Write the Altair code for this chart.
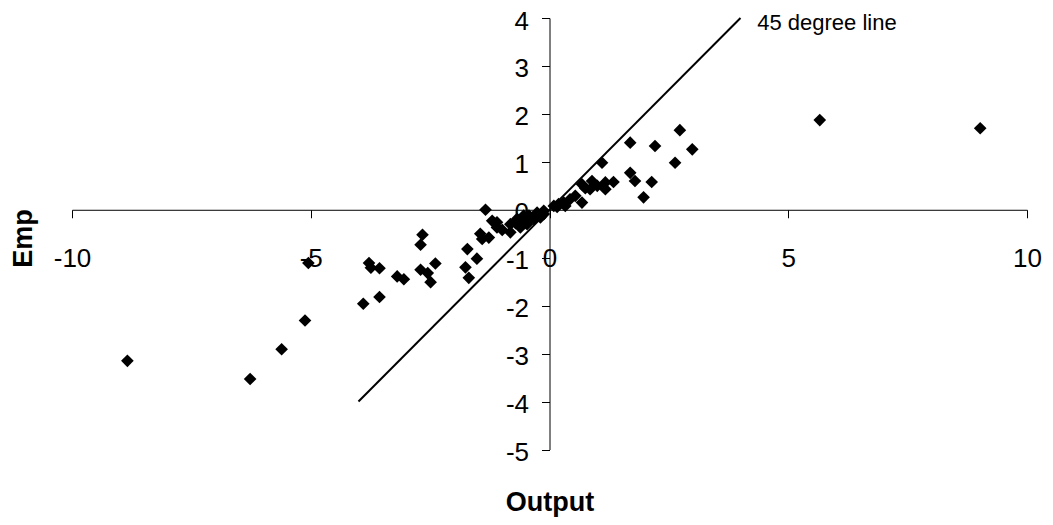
import altair as alt
import pandas as pd

# Scatter data (Output growth vs Emp growth)
output_vals = [-8.84, -6.27, -5.61, -5.12, -5.05, -3.90, -3.56, -3.78, -3.74, -3.56,
               -3.19, -3.05, -2.66, -2.70, -2.70, -2.55, -2.39, -2.49, -1.72, -1.52,
               -1.76, -1.69, -1.34, -1.45, -1.41, -1.27, -1.20, -1.10, -1.10, -0.99,
               -0.82, -0.82, -0.68, -0.71, -0.61, -0.54, -0.54, -0.47, -0.43, -0.40,
               -0.33, -0.26, -0.26, -0.19, -0.12, -0.12,
               0.09, 0.16, 0.19, 0.33, 0.30, 0.43, 0.54, 0.68, 0.68, 0.75, 0.89, 0.85,
               1.00, 1.10, 1.17, 1.17, 1.34, 1.69, 1.69, 1.79, 1.97, 2.14, 2.21, 2.63,
               2.73, 2.99, 5.66, 9.02]
emp_vals = [-3.15, -3.53, -2.91, -2.31, -1.11, -1.96, -1.82, -1.11, -1.21, -1.22,
            -1.39, -1.45, -0.52, -0.73, -1.25, -1.32, -1.12, -1.51, -0.82, -1.02,
            -1.20, -1.42, 0.00, -0.50, -0.61, -0.58, -0.23, -0.26, -0.37, -0.42,
            -0.47, -0.30, -0.19, -0.28, -0.37, -0.12, -0.23, -0.30, -0.12, -0.16,
            -0.19, -0.06, -0.12, -0.16, -0.09, -0.02,
            0.08, 0.06, 0.12, 0.08, 0.15, 0.22, 0.29, 0.15, 0.53, 0.45, 0.60, 0.43,
            0.50, 0.98, 0.43, 0.57, 0.58, 1.40, 0.77, 0.60, 0.26, 0.58, 1.33, 0.98,
            1.66, 1.26, 1.87, 1.70]

# 45 degree reference line
line_x = [-4, 4]
line_y = [-4, 4]

# annotation
note_text = ["45 degree line"]
note_x = [4.35]
note_y = [3.75]

# axis ticks
x_ticks = [-10, -5, 0, 5, 10]
y_ticks = [-5, -4, -3, -2, -1, 0, 1, 2, 3, 4]
x_domain = [-10, 10]
y_domain = [-5, 4]

W = 955
H = 431.5
FONT = "Liberation Sans"

pts = pd.DataFrame({"Output": output_vals, "Emp": emp_vals})
line_df = pd.DataFrame({"Output": line_x, "Emp": line_y})
note_df = pd.DataFrame({"Output": note_x, "Emp": note_y, "label": note_text})

x_scale = alt.Scale(domain=x_domain, nice=False, zero=False)
y_scale = alt.Scale(domain=y_domain, nice=False, zero=False)

# axes cross at the origin
x_off = -H * (0 - y_domain[0]) / (y_domain[1] - y_domain[0])
y_off = -W * (0 - x_domain[0]) / (x_domain[1] - x_domain[0])

x_axis = alt.Axis(
    values=x_ticks, grid=False, offset=x_off,
    domainColor="black", domainWidth=1, tickColor="black", tickWidth=1, tickSize=8,
    labelFont=FONT, labelFontSize=26, labelColor="black", labelPadding=28,
    labelFlush=False, labelOverlap=False, labelExpr="'' + datum.value",
    title="Output", titleFont=FONT, titleFontSize=27, titleFontWeight="bold",
    titleColor="black", titleX=W / 2, titleY=301, titleAlign="center",
    titleBaseline="alphabetic", titleAngle=0,
)
y_axis = alt.Axis(
    values=y_ticks, grid=False, offset=y_off,
    domainColor="black", domainWidth=1, tickColor="black", tickWidth=1, tickSize=8,
    labelFont=FONT, labelFontSize=26, labelColor="black", labelPadding=13,
    labelOffset=3, labelFlush=False, labelOverlap=False, labelExpr="'' + datum.value",
    title="Emp", titleFont=FONT, titleFontSize=27, titleFontWeight="bold",
    titleColor="black", titleX=-(W / 2) - 41, titleY=220, titleAlign="center",
    titleBaseline="alphabetic", titleAngle=270,
)

points = alt.Chart(pts).mark_point(
    shape="diamond", filled=True, color="black", size=160, opacity=1
).encode(
    x=alt.X("Output:Q", scale=x_scale, axis=x_axis),
    y=alt.Y("Emp:Q", scale=y_scale, axis=y_axis),
)

line = alt.Chart(line_df).mark_line(color="black", strokeWidth=2).encode(
    x=alt.X("Output:Q", scale=x_scale),
    y=alt.Y("Emp:Q", scale=y_scale),
)

note = alt.Chart(note_df).mark_text(
    align="left", baseline="alphabetic", font=FONT, fontSize=22, color="black"
).encode(
    x=alt.X("Output:Q", scale=x_scale),
    y=alt.Y("Emp:Q", scale=y_scale),
    text="label:N",
)

chart = alt.layer(line, points, note).properties(
    width=W, height=H,
    autosize=alt.AutoSizeParams(type="none"),
    padding={"left": 64, "top": 10, "right": 18, "bottom": 67.5},
    background="white",
).configure_view(strokeWidth=0)

chart.save("out.html", embed_options={"renderer": "svg", "actions": False})
